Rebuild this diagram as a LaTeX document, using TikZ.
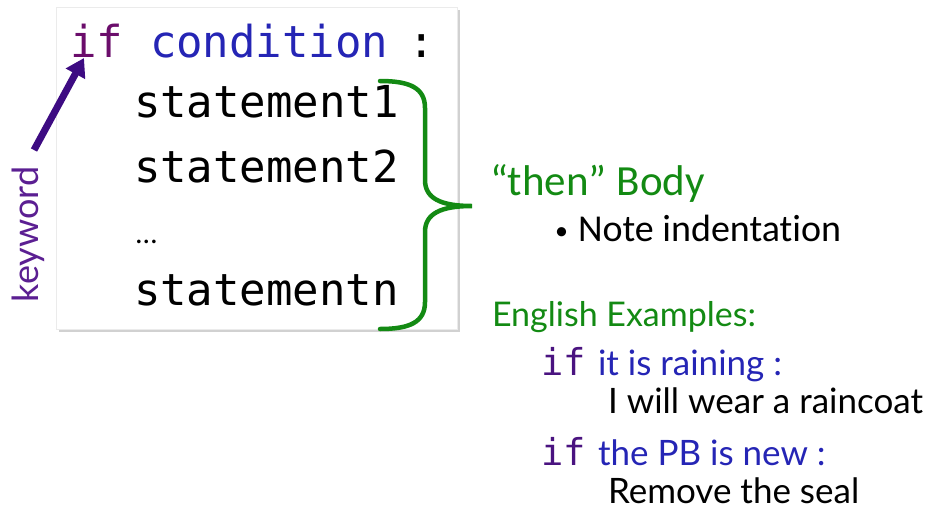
\documentclass[tikz,border=0pt]{standalone}
\usepackage{fontspec}
\setmainfont{Carlito}[Ligatures={NoCommon}]
\newfontfamily\gillish{Lato}[Ligatures={NoCommon}]
\newfontfamily\codefont{DejaVu Sans Mono}
\usetikzlibrary{arrows.meta}

\definecolor{kwpurple}{HTML}{6B0D6B}
\definecolor{condblue}{HTML}{2525B5}
\definecolor{bodygreen}{HTML}{138A13}
\definecolor{arrowpurple}{HTML}{3D0B82}
\definecolor{labelpurple}{HTML}{5B1F92}
\definecolor{expurple}{HTML}{4A1380}

\tikzset{
  txt/.style={inner sep=0pt, outer sep=0pt, anchor=base west},
  code/.style={txt, font=\codefont\fontsize{44}{44}\selectfont},
  excode/.style={txt, font=\codefont\fontsize{37}{37}\selectfont, text=expurple},
  gill/.style={txt, font=\gillish\fontsize{35}{35}\selectfont},
}

\begin{document}
\begin{tikzpicture}[x=1pt,y=-1pt]
  \useasboundingbox (0,0) rectangle (938,512);

  % code panel with a soft shadow
  \fill[black!18] (59,10) rectangle (460,332);
  \filldraw[fill=white, draw=black!8] (56,7) rectangle (457,329);

  % the if statement template
  \node[code, text=kwpurple] (if) at (70,57) {if};
  \node[code, text=condblue] (cond) at (150,57) {condition};
  \node[code] (colon) at (408,57) {:};
  \node[code] (s1) at (134,117) {statement1};
  \node[code] (s2) at (134,182) {statement2};
  \node[txt, font=\fontsize{30}{30}\selectfont] (dots) at (136,243) {…};
  \node[code] (sn) at (134,305) {statementn};

  % keyword label and its arrow
  \node[gill, font=\gillish\fontsize{36}{36}\selectfont, text=labelpurple, rotate=90] (kw) at (38,302) {keyword};
  \coordinate (kwtail) at (34,150);
  \coordinate (kwtip) at (84,58);
  \draw[arrowpurple, line width=7pt, -{Triangle[length=18pt,width=21pt]}] (kwtail) -- (kwtip);

  % brace around the body
  \coordinate (btop) at (380,81);
  \coordinate (btip) at (472,206);
  \coordinate (bbot) at (380,329);
  \draw[bodygreen, line width=4.5pt, line cap=round]
    (btop) .. controls (410,81) and (425,88) .. (425,108)
    -- (425,180) .. controls (425,198) and (440,206) .. (btip)
    .. controls (440,206) and (425,214) .. (425,232)
    -- (425,302) .. controls (425,322) and (410,329) .. (bbot);

  % body notes
  \node[txt, text=bodygreen, font=\fontsize{43}{43}\selectfont] (then) at (490,195) {“then” Body};
  \node[txt, font=\fontsize{26}{26}\selectfont] (bullet) at (555,239) {•};
  \node[txt, font=\fontsize{38}{38}\selectfont] (note) at (578,241) {Note indentation};

  % English examples
  \node[gill, text=bodygreen, font=\gillish\fontsize{34}{34}\selectfont] (eng) at (492,326) {English Examples:};
  \node[excode] (if1) at (541,375) {if};
  \node[gill, text=condblue] (c1) at (598,375) {it is raining :};
  \node[gill] (b1) at (608,413) {I will wear a raincoat};
  \node[excode] (if2) at (541,465) {if};
  \node[gill, text=condblue] (c2) at (598,465) {the PB is new :};
  \node[gill] (b2) at (608,503) {Remove the seal};
\end{tikzpicture}
\end{document}
